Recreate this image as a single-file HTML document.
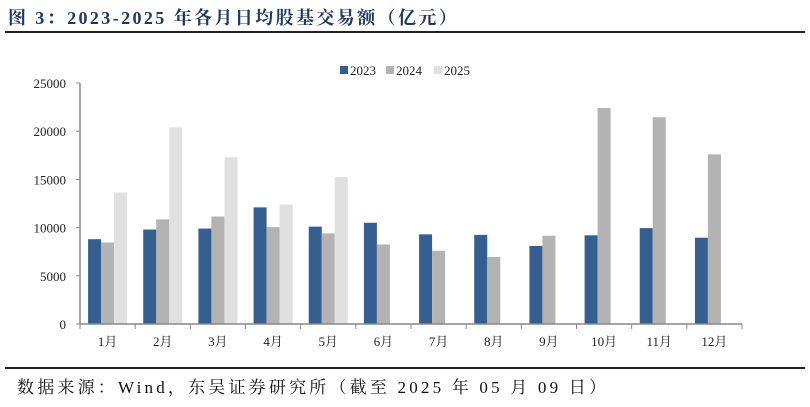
<!DOCTYPE html>
<html><head><meta charset="utf-8"><style>
body{margin:0;width:810px;height:407px;background:#fff;overflow:hidden;font-family:"Liberation Serif","Noto Serif CJK SC",serif;}
</style></head><body>
<div style="position:absolute;left:8px;top:4px;font-size:18px;letter-spacing:2.4px;font-weight:bold;color:#1f3864;white-space:nowrap;">图 3：2023-2025 年各月日均股基交易额（亿元）</div>
<div style="position:absolute;left:5px;top:31px;width:800px;height:2px;background:#222;"></div>
<svg id="chart" width="810" height="407" style="position:absolute;left:0;top:0" font-family="Liberation Serif, Noto Serif CJK SC, serif"></svg>
<div style="position:absolute;left:5px;top:367px;width:800px;height:2px;background:#222;"></div>
<div style="position:absolute;left:17px;top:373px;font-size:17px;letter-spacing:3.2px;color:#111;white-space:nowrap;">数据来源：Wind，东吴证券研究所（截至 2025 年 05 月 09 日）</div>
<script>
const categories=["1月","2月","3月","4月","5月","6月","7月","8月","9月","10月","11月","12月"];
const s2023=[8800,9800,9900,12100,10100,10500,9300,9250,8100,9200,9950,8950];
const s2024=[8450,10850,11150,10050,9400,8250,7600,6950,9150,22400,21450,17600];
const s2025=[13650,20400,17300,12400,15250,null,null,null,null,null,null,null];
const yTicks=[0,5000,10000,15000,20000,25000];
const seriesNames=["2023","2024","2025"];
const colors=["#365f91","#b3b3b3","#e0e0e0"];
const NS="http://www.w3.org/2000/svg";
const svg=document.getElementById("chart");
const x0=80,x1=742,y0=324,yTop=83,yMax=25000;
const y=v=>y0-(v/yMax)*(y0-yTop);
const bw=(x1-x0)/categories.length;
function mk(t,a,p){const e=document.createElementNS(NS,t);for(const k in a)e.setAttribute(k,a[k]);(p||svg).appendChild(e);return e;}
const ax=mk("line",{x1:x0,y1:yTop,x2:x0,y2:y0,stroke:"#888","stroke-width":1.5});


yTicks.forEach(t=>{
  const tk=mk("line",{x1:x0-4,x2:x0,y1:y(t),y2:y(t),stroke:"#888"});
  
  
  const tx=mk("text",{x:x0-14,y:y(t)+5,"text-anchor":"end","font-size":13,fill:"#222"});
  tx.textContent=t;
  
  
});
const all=[s2023,s2024,s2025];
const barW=13;
categories.forEach((c,i)=>{
  const gx=x0+i*bw+(bw-3*barW)/2;
  all.forEach((s,j)=>{
    if(s[i]==null)return;
    const r=mk("rect",{x:gx+j*barW,y:y(s[i]),width:barW,height:y0-y(s[i]),fill:colors[j]});
    
    
  });
  const tl=mk("text",{x:x0+i*bw+bw/2,y:y0+22,"text-anchor":"middle","font-size":13,fill:"#222"});
  tl.textContent=c;
  
  
});
for(let i=0;i<=categories.length;i++){
  const tk=mk("line",{x1:x0+i*bw,x2:x0+i*bw,y1:y0,y2:y0+5,stroke:"#888"});
  
  
}
const xa=mk("line",{x1:x0,y1:y0,x2:x1,y2:y0,stroke:"#888","stroke-width":1.5});


const lx=[340,386,434];
seriesNames.forEach((n,j)=>{
  const g=mk("g",{});
  
  
  mk("rect",{x:lx[j],y:66,width:8,height:8,fill:colors[j]},g);
  const t=mk("text",{x:lx[j]+10,y:75,"font-size":13,fill:"#222"},g);
  t.textContent=n;
});
</script>
</body></html>
